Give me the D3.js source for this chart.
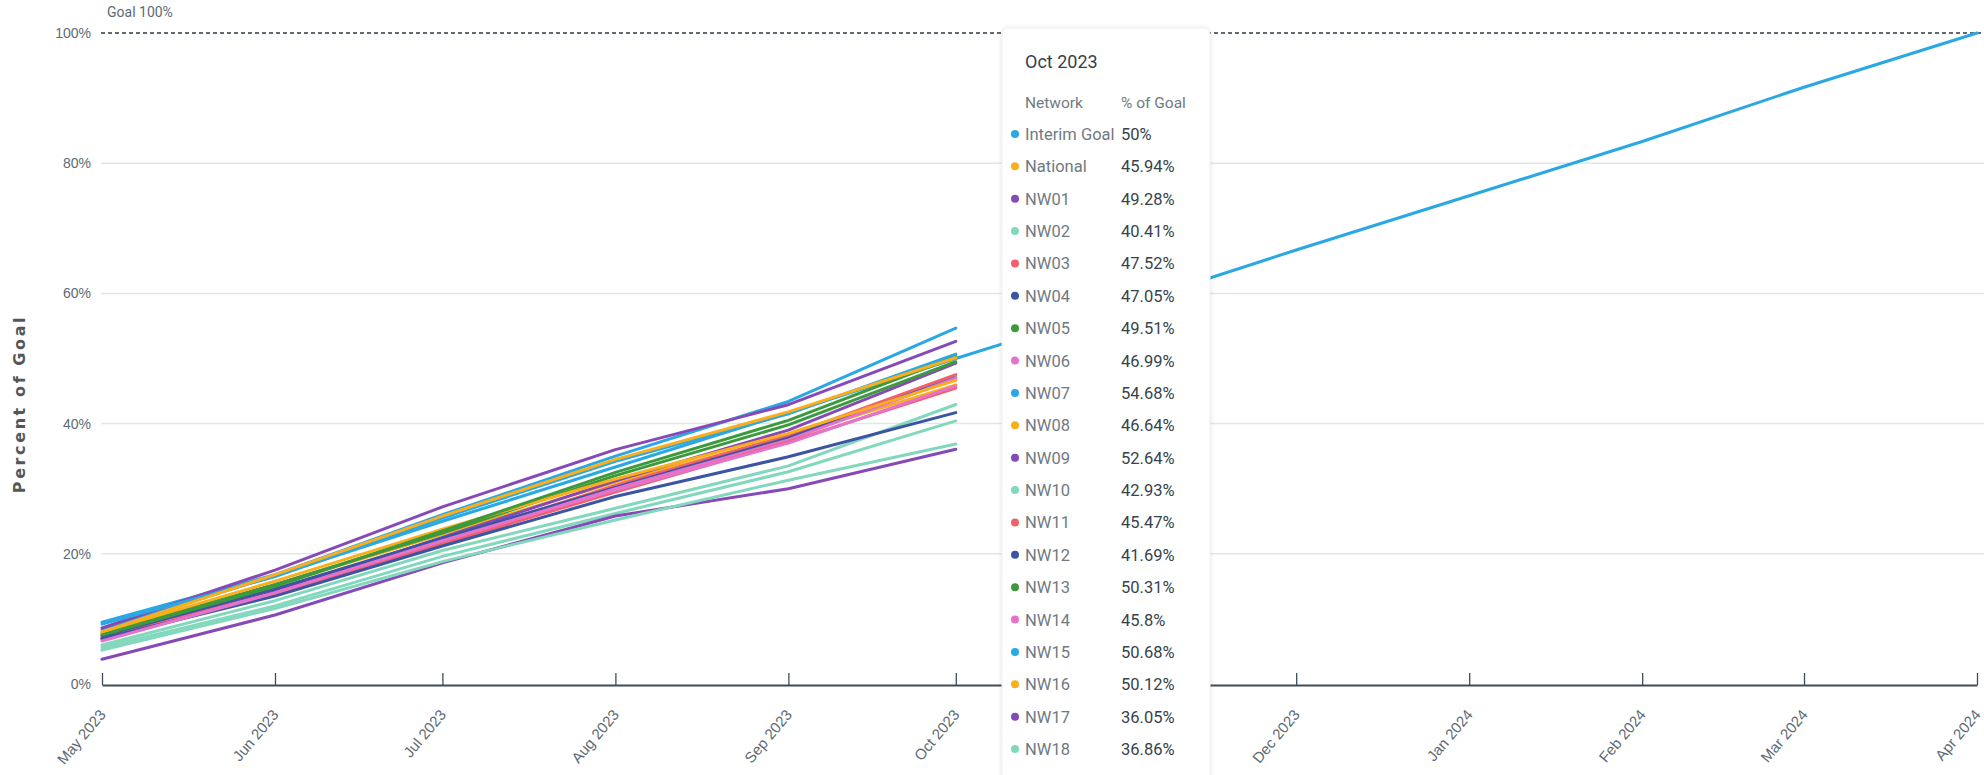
<!DOCTYPE html>
<html>
<head>
<meta charset="utf-8">
<script src="https://cdn.jsdelivr.net/npm/d3@7"></script>
<style>
  body { margin: 0; background: #fff; }
  svg { display: block; font-family: Roboto, "Noto Sans", sans-serif; }
</style>
</head>
<body>
<div id="chart"></div>
<script>
// months shown on the x axis
const tickMonths = ['2023-05', '2023-06', '2023-07', '2023-08', '2023-09', '2023-10',
  '2023-11', '2023-12', '2024-01', '2024-02', '2024-03', '2024-04'];
// months with network data
const dataMonths = ['2023-05', '2023-06', '2023-07', '2023-08', '2023-09', '2023-10'];
const yTicks = [0, 20, 40, 60, 80, 100];

// percent of goal, May..Oct 2023 (interim goal runs to Apr 2024)
const interimGoal = [8.33, 16.67, 25, 33.33, 41.67, 50, 58.33, 66.67, 75, 83.33, 91.67, 100];
const national = [7.6, 15.2, 23.0, 31.0, 38.0, 45.94];
const nw01 = [7.0, 14.2, 22.5, 31.2, 39.0, 49.28];
const nw02 = [5.6, 12.0, 19.6, 26.2, 32.6, 40.41];
const nw03 = [7.2, 14.0, 22.0, 30.5, 38.2, 47.52];
const nw04 = [7.4, 14.6, 22.4, 30.2, 37.8, 47.05];
const nw05 = [7.8, 15.3, 23.2, 32.0, 39.8, 49.51];
const nw06 = [6.8, 14.0, 21.8, 30.0, 37.5, 46.99];
const nw07 = [9.5, 16.8, 26.0, 35.0, 43.4, 54.68];
const nw08 = [8.0, 15.8, 23.8, 31.5, 38.5, 46.64];
const nw09 = [8.6, 17.5, 27.2, 36.0, 42.9, 52.64];
const nw10 = [6.0, 12.8, 20.5, 27.0, 33.5, 42.93];
const nw11 = [6.9, 13.8, 21.5, 29.5, 37.2, 45.47];
const nw12 = [7.0, 13.5, 21.2, 28.8, 34.9, 41.69];
const nw13 = [7.5, 15.0, 23.5, 32.5, 40.5, 50.31];
const nw14 = [6.6, 14.0, 22.0, 29.8, 37.0, 45.8];
const nw15 = [9.2, 16.5, 25.5, 34.2, 41.5, 50.68];
const nw16 = [8.0, 16.8, 25.8, 34.5, 41.8, 50.12];
const nw17 = [3.8, 10.6, 18.6, 25.8, 30.0, 36.05];
const nw18 = [5.2, 11.6, 18.8, 25.2, 31.3, 36.86];

const seriesNames = ['Interim Goal', 'National', 'NW01', 'NW02', 'NW03', 'NW04', 'NW05', 'NW06',
  'NW07', 'NW08', 'NW09', 'NW10', 'NW11', 'NW12', 'NW13', 'NW14', 'NW15', 'NW16', 'NW17', 'NW18'];
const seriesValues = [interimGoal, national, nw01, nw02, nw03, nw04, nw05, nw06, nw07, nw08,
  nw09, nw10, nw11, nw12, nw13, nw14, nw15, nw16, nw17, nw18];
const palette = ['#2aa8e4', '#fbae1b', '#8749b6', '#82d8bd', '#f45f6e', '#3b55a3', '#3c9a3d', '#e572cb'];

const W = 1984;
const H = 775;
const parseMonth = d3.timeParse('%Y-%m');

const svg = d3.select('#chart')
  .append('svg')
  .attr('width', W)
  .attr('height', H);

// scales
const x = d3.scaleTime()
  .domain([parseMonth(tickMonths[0]), parseMonth(tickMonths[tickMonths.length - 1])])
  .range([102, 1977]);

const y = d3.scaleLinear()
  .domain([0, 100])
  .range([684, 33]);

// gridlines
svg.append('g')
  .selectAll('line')
  .data(yTicks.filter((d) => d > 0 && d < 100))
  .enter()
  .append('line')
  .attr('x1', 101)
  .attr('x2', W)
  .attr('y1', (d) => y(d))
  .attr('y2', (d) => y(d))
  .attr('stroke', '#e2e6e6')
  .attr('stroke-width', 1.5);

// y tick labels
const yAxis = d3.axisLeft(y)
  .tickValues(yTicks)
  .tickFormat((d) => `${d}%`)
  .tickSize(0)
  .tickPadding(0);

svg.append('g')
  .attr('transform', 'translate(91,0)')
  .call(yAxis)
  .call((g) => g.select('.domain').remove())
  .selectAll('text')
  .attr('fill', '#5d6a73')
  .style('font-size', '14px');

// y axis title
svg.append('text')
  .attr('transform', 'translate(25,404) rotate(-90)')
  .attr('text-anchor', 'middle')
  .attr('fill', '#54575a')
  .style('font-family', '"DejaVu Sans", sans-serif')
  .style('font-size', '16px')
  .style('font-weight', 'bold')
  .style('letter-spacing', '2.6px')
  .text('Percent of Goal');

// goal line
svg.append('line')
  .attr('x1', 101)
  .attr('x2', W)
  .attr('y1', y(100))
  .attr('y2', y(100))
  .attr('stroke', '#2b3a44')
  .attr('stroke-width', 1.3)
  .attr('stroke-dasharray', '4,3');

svg.append('text')
  .attr('x', 107)
  .attr('y', 17)
  .attr('fill', '#5d6a73')
  .style('font-size', '14px')
  .text('Goal 100%');

// x axis (ticks point up)
const xAxis = d3.axisBottom(x)
  .tickValues(tickMonths.map(parseMonth))
  .tickSize(-12)
  .tickSizeOuter(0)
  .tickFormat(d3.timeFormat('%b %Y'));

const xg = svg.append('g')
  .attr('transform', `translate(0,${y(0) + 1})`)
  .call(xAxis);

xg.select('.domain')
  .attr('stroke', '#3e4c56')
  .attr('stroke-width', 2);
xg.selectAll('.tick line')
  .attr('stroke', '#3e4c56')
  .attr('stroke-width', 1.3);
xg.selectAll('.tick text')
  .attr('fill', '#5d6a73')
  .style('font-size', '15px')
  .attr('text-anchor', 'end')
  .attr('y', 0)
  .attr('dy', 0)
  .attr('transform', 'translate(4,30) rotate(-50)');

// lines
const line = d3.line()
  .x((d) => x(d.date))
  .y((d) => y(d.value));

const lines = svg.append('g').attr('fill', 'none');

seriesNames.forEach((name, i) => {
  const months = seriesValues[i].length === tickMonths.length ? tickMonths : dataMonths;
  const pts = seriesValues[i].map((v, j) => ({ date: parseMonth(months[j]), value: v }));
  lines.append('path')
    .datum(pts)
    .attr('d', line)
    .attr('stroke', palette[i % palette.length])
    .attr('stroke-width', 3)
    .attr('stroke-linejoin', 'round')
    .attr('stroke-linecap', 'round');
});

// tooltip for Oct 2023
const defs = svg.append('defs');
const shadow = defs.append('filter')
  .attr('id', 'shadow')
  .attr('x', '-10%')
  .attr('y', '-10%')
  .attr('width', '120%')
  .attr('height', '120%');
shadow.append('feDropShadow')
  .attr('dx', 0)
  .attr('dy', 0)
  .attr('stdDeviation', 2)
  .attr('flood-color', '#000')
  .attr('flood-opacity', 0.12);

const tip = svg.append('g').attr('transform', 'translate(1002,28)');

tip.append('rect')
  .attr('width', 208)
  .attr('height', 770)
  .attr('rx', 6)
  .attr('fill', '#fff')
  .attr('stroke', '#eef0f0')
  .attr('filter', 'url(#shadow)');

tip.append('text')
  .attr('x', 23)
  .attr('y', 40)
  .attr('fill', '#33414b')
  .style('font-size', '18px')
  .text('Oct 2023');

tip.append('text')
  .attr('x', 23)
  .attr('y', 80)
  .attr('fill', '#6f7a82')
  .style('font-size', '15.5px')
  .text('Network');

tip.append('text')
  .attr('x', 119)
  .attr('y', 80)
  .attr('fill', '#6f7a82')
  .style('font-size', '15.5px')
  .text('% of Goal');

const rowY = d3.scaleLinear()
  .domain([0, seriesNames.length - 1])
  .range([112, 727]);

const octIndex = dataMonths.length - 1;

seriesNames.forEach((name, i) => {
  const row = tip.append('g').attr('transform', `translate(0,${rowY(i)})`);
  row.append('circle')
    .attr('cx', 13)
    .attr('cy', -6)
    .attr('r', 4)
    .attr('fill', palette[i % palette.length]);
  row.append('text')
    .attr('x', 23)
    .attr('fill', '#6f7a82')
    .style('font-size', '16.5px')
    .text(name);
  row.append('text')
    .attr('x', 119)
    .attr('fill', '#36434d')
    .style('font-size', '16.5px')
    .text(`${seriesValues[i][octIndex]}%`);
});
</script>
</body>
</html>
